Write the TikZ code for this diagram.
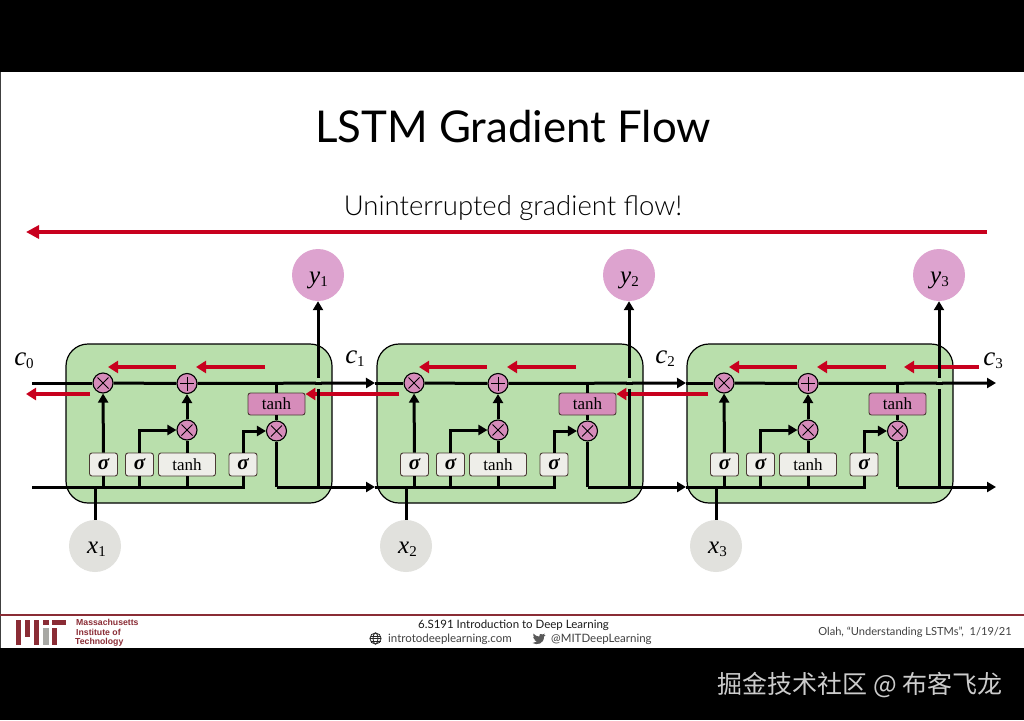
\documentclass[tikz,border=0pt]{standalone}
\usepackage{fontspec}
\usetikzlibrary{arrows.meta}
\newfontfamily\slidefont{Lato}
\newfontfamily\slidelight{Lato Light}
\newfontfamily\labelfont{Liberation Serif}
\newfontfamily\mitfont{Liberation Sans}
\newfontfamily\cjkfont{Noto Sans CJK SC}
\definecolor{cellgreen}{HTML}{B9DFAC}
\definecolor{pinkfill}{HTML}{D68CBA}
\definecolor{ypink}{HTML}{DDA3CF}
\definecolor{xgray}{HTML}{E1E1DD}
\definecolor{boxgray}{HTML}{EEEEE9}
\definecolor{edgebrown}{HTML}{4A3A34}
\definecolor{gradred}{HTML}{C8001E}
\definecolor{mitred}{HTML}{8A2C35}
\definecolor{mitgray}{HTML}{A8A8A4}
\newcommand{\varsub}[3]{{\labelfont\itshape\fontsize{#3}{#3}\selectfont #1}\raisebox{-.3em}{\labelfont\fontsize{15}{15}\selectfont #2}}
\newcommand{\sigmaglyph}{{\labelfont\bfseries\itshape\fontsize{21}{21}\selectfont σ}}
\tikzset{
  wire/.style={line width=3pt,black},
  arrowwire/.style={wire,-{Triangle[length=9pt,width=10pt]}},
  redflow/.style={line width=3.4pt,gradred,-{Triangle[length=10pt,width=12pt]}},
  cellbox/.style={draw=black,line width=1.2pt,fill=cellgreen,rounded corners=22pt},
  sigmabox/.style={draw=edgebrown,line width=.9pt,fill=boxgray,rounded corners=2.5pt,minimum width=28pt,minimum height=23pt,inner sep=0pt},
  tanhbox/.style={sigmabox,minimum width=57pt,font=\labelfont\fontsize{17}{19}\selectfont},
  tanhpink/.style={tanhbox,fill=pinkfill,draw=edgebrown,minimum height=22pt},
  opcirc/.style={circle,draw=black,line width=1.1pt,fill=pinkfill,minimum size=20pt,inner sep=0pt},
  timesop/.style={opcirc,path picture={\draw[line width=1pt] (path picture bounding box.center) ++(-5.5,-5.5) -- ++(11,11) ++(-11,0) -- ++(11,-11);}},
  plusop/.style={opcirc,path picture={\draw[line width=1pt] (path picture bounding box.center) ++(-7,0) -- ++(14,0) ++(-7,-7) -- ++(0,14);}},
  outcirc/.style={circle,fill=ypink,minimum size=52pt,inner sep=0pt},
  incirc/.style={circle,fill=xgray,minimum size=52pt,inner sep=0pt},
  statelabel/.style={inner sep=0pt},
  sidetext/.style={inner sep=0pt,font=\slidefont\fontsize{11.5}{14}\selectfont,text=black!75},
  mittext/.style={anchor=west,inner sep=0pt,text=mitred,font=\mitfont\bfseries\fontsize{8.7}{10}\selectfont},
}
\begin{document}
\begin{tikzpicture}[x=1pt,y=-1pt]
\useasboundingbox (0,0) rectangle (1024,720);
\fill[white] (0,0) rectangle (1024,720);
\fill[black] (0,0) rectangle (1024,72);
\fill[black] (0,648) rectangle (1024,720);
\fill[black!75] (0,72) rectangle (1.2,648);

\node[inner sep=0pt,font=\slidefont\fontsize{43.8}{50}\selectfont] (title) at (513,127) {LSTM Gradient Flow};
\node[inner sep=0pt,font=\slidelight\fontsize{27.5}{30}\selectfont] (subtitle) at (513,208.5) {Uninterrupted gradient flow!};
\coordinate (flowstart) at (987,232);
\coordinate (flowend) at (26,232);
\draw[line width=3.6pt,gradred,-{Triangle[length=13pt,width=13pt]}] (flowstart) -- (flowend);

\foreach \i/\dx/\sx in {1/0/32,2/311/64,3/621/65}{
\begin{scope}[shift={(\dx,0)}]
  \draw[cellbox] (66,344) rectangle (332,503);
  % junctions and free ends
  \coordinate (topstart\i) at (\sx,383);
  \coordinate (topend\i) at (375,383);
  \coordinate (botstart\i) at (\sx,487);
  \coordinate (botend\i) at (375,487);
  \coordinate (jS\i) at (103.5,487);
  \coordinate (jT\i) at (139.5,487);
  \coordinate (jH\i) at (187,487);
  \coordinate (jG\i) at (243,487);
  \coordinate (jX\i) at (95,487);
  \coordinate (jY\i) at (318,487);
  \coordinate (jC\i) at (276.5,487);
  \coordinate (jU\i) at (276.5,383);
  \coordinate (bendT\i) at (139.5,430);
  \coordinate (bendG\i) at (243,431);
  % nodes
  \node[timesop] (mulA\i) at (103,383) {};
  \node[plusop] (add\i) at (187,383.5) {};
  \node[timesop] (mulB\i) at (187,430) {};
  \node[timesop] (mulC\i) at (276.5,431) {};
  \node[tanhpink] (tanhO\i) at (276.5,404) {tanh};
  \node[sigmabox] (sigA\i) at (103.5,464.5) {\sigmaglyph};
  \node[sigmabox] (sigB\i) at (139.5,464.5) {\sigmaglyph};
  \node[tanhbox] (tanhI\i) at (187,464.5) {tanh};
  \node[sigmabox] (sigC\i) at (243,464.5) {\sigmaglyph};
  \node[outcirc] (y\i) at (318,275) {\raisebox{-8.5pt}[0pt][0pt]{\hspace{1pt}\varsub{y}{\i}{25}}};
  \node[incirc] (x\i) at (95,546) {\raisebox{-7.5pt}[0pt][0pt]{\hspace{3pt}\varsub{x}{\i}{25}}};
  % wires
  \draw[wire] (x\i) -- (jX\i);
  \draw[wire] (topstart\i) -- (mulA\i);
  \draw[wire] (mulA\i) -- (add\i);
  \draw[arrowwire] (add\i) -- (topend\i);
  \draw[wire] (botstart\i) -- (jG\i) -- (sigC\i);
  \draw[wire] (jS\i) -- (sigA\i);
  \draw[wire] (jT\i) -- (sigB\i);
  \draw[wire] (jH\i) -- (tanhI\i);
  \draw[arrowwire] (sigA\i) -- (mulA\i);
  \draw[arrowwire] (sigB\i) -- (bendT\i) -- (mulB\i);
  \draw[wire] (tanhI\i) -- (mulB\i);
  \draw[arrowwire] (mulB\i) -- (add\i);
  \draw[arrowwire] (sigC\i) -- (bendG\i) -- (mulC\i);
  \draw[wire] (jU\i) -- (tanhO\i);
  \draw[wire] (tanhO\i) -- (mulC\i);
  \draw[wire] (mulC\i) -- (jC\i);
  \draw[arrowwire] (jC\i) -- (botend\i);
  % upper red arrows inside the cell
  \coordinate (ra\i) at (176,367);
  \coordinate (rb\i) at (108,367);
  \coordinate (rc\i) at (265,367);
  \coordinate (rd\i) at (196,367);
  \draw[redflow] (ra\i) -- (rb\i);
  \draw[redflow] (rc\i) -- (rd\i);
\end{scope}
}
% red arrows between the cells
\coordinate (r0a) at (90,394);
\coordinate (r0b) at (26,394);
\coordinate (r1a) at (399,394);
\coordinate (r2a) at (708,394);
\coordinate (r3a) at (979,367);
\coordinate (r3b) at (904,367);
\draw[redflow] (r0a) -- (r0b);
\draw[redflow] (r1a) -- (tanhO1.east |- r1a);
\draw[redflow] (r2a) -- (tanhO2.east |- r2a);
\draw[redflow] (r3a) -- (r3b);
% output wires on top, broken at the crossing with the cell state
\foreach \i in {1,2,3}{
  \path (jY\i) |- (topend\i) coordinate[pos=.5] (cross\i);
  \draw[arrowwire] (jY\i) -- (y\i);
  \fill[cellgreen] ([shift={(-2.5,-5.5)}]cross\i) rectangle ([shift={(2.5,5.5)}]cross\i);
  \draw[wire] ([xshift=-3.5pt]cross\i) -- ([xshift=3.5pt]cross\i);
}
\node[statelabel] (c0) at (24,361) {\varsub{c}{0}{27}};
\node[statelabel] (c1) at (355,359) {\varsub{c}{1}{27}};
\node[statelabel] (c2) at (665,359) {\varsub{c}{2}{27}};
\node[statelabel] (c3) at (993,361) {\varsub{c}{3}{27}};

% footer
\fill[mitred] (0,614) rectangle (1024,616);
\fill[mitred] (16,620) rectangle (21,645);
\fill[mitred] (24.5,620) rectangle (30,637);
\fill[mitred] (33.5,620) rectangle (39,645);
\fill[mitred] (43,620) rectangle (48.5,625);
\fill[mitgray] (43,628) rectangle (48.5,645);
\fill[mitred] (52,620) rectangle (66,625);
\fill[mitred] (52,628) rectangle (57,645);
\node[mittext] (mit1) at (76,622.5) {Massachusetts};
\node[mittext] (mit2) at (76,632.5) {Institute of};
\node[mittext] (mit3) at (75,642.5) {Technology};
\node[sidetext,text=black!90] (course) at (513.5,625) {6.S191 Introduction to Deep Learning};
\node[sidetext,anchor=west] (site) at (388,639) {introtodeeplearning.com};
\node[sidetext,anchor=west] (handle) at (551,639) {@MITDeepLearning};
\node[sidetext,anchor=east,font=\slidefont\fontsize{11.1}{14}\selectfont] (cite) at (1012,632.5) {Olah, “Understanding LSTMs”,\ \ 1/19/21};
% globe
\begin{scope}[shift={(375.5,638.5)},line width=.8pt,draw=black!85]
  \draw (0,0) circle (5.6);
  \draw (0,0) ellipse (2.5 and 5.6);
  \draw (-5.6,0) -- (5.6,0);
  \draw (-5,-2.6) -- (5,-2.6);
  \draw (-5,2.6) -- (5,2.6);
\end{scope}
% bird
\begin{scope}[shift={(539,639)}]
  \fill[black!65] (-6.5,4) .. controls (-2,6.5) and (5,5) .. (5,-2.5) -- (6.5,-4) -- (4.8,-3.6) -- (5.8,-5.4) -- (3.8,-4.6) .. controls (2,-6) and (-.5,-5) .. (.2,-2.4) .. controls (-2,-2.6) and (-4,-3.6) .. (-5.6,-5.4) .. controls (-6.2,-3.8) and (-5.6,-2.4) .. (-4.6,-1.6) -- (-5.8,-2) .. controls (-5.6,-.4) and (-4.6,.4) .. (-3.4,.8) -- (-4.8,.8) .. controls (-4.2,2) and (-3.2,2.6) .. (-2.2,2.6) .. controls (-3.4,3.6) and (-5,4) .. (-6.5,4) -- cycle;
\end{scope}
\node[inner sep=0pt,text=black!20!white,font=\cjkfont\fontsize{25}{28}\selectfont] (mark) at (860,685) {掘金技术社区 @ 布客飞龙};
\end{tikzpicture}
\end{document}
